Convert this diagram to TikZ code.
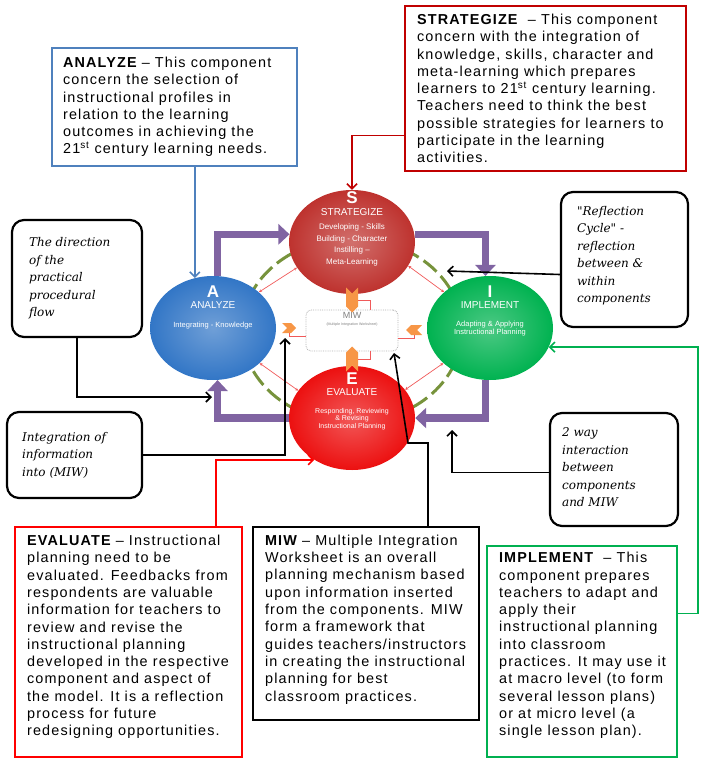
\documentclass[tikz,border=0pt]{standalone}
\usepackage{fontspec}
\setmainfont{Liberation Sans}
\newfontfamily\boxfont[LetterSpace=8]{Liberation Sans}
\newfontfamily\callfont{DejaVu Serif}
\usetikzlibrary{arrows.meta}
\usetikzlibrary{positioning}
\usetikzlibrary{shapes.geometric}
\usetikzlibrary{shapes.symbols}
\usetikzlibrary{backgrounds}
\usetikzlibrary{calc}

\definecolor{anablue}{RGB}{79,129,189}
\definecolor{strared}{RGB}{192,0,0}
\definecolor{evared}{RGB}{255,0,0}
\definecolor{implgreen}{RGB}{0,176,80}
\definecolor{cyclepurple}{RGB}{128,100,162}
\definecolor{dashgreen}{RGB}{119,147,60}
\definecolor{chevorange}{RGB}{247,150,70}
\definecolor{linkred}{RGB}{240,90,90}
\definecolor{sball}{RGB}{190,50,46}
\definecolor{aball}{RGB}{50,118,198}
\definecolor{iball}{RGB}{0,178,80}
\definecolor{eball}{RGB}{236,16,16}

\tikzset{
  comp/.style={ellipse, minimum width=126, minimum height=104, inner sep=0},
  letter/.style={text=white, font=\bfseries\fontsize{17}{17}\selectfont, inner sep=0},
  compname/.style={text=white, font=\fontsize{10}{10}\selectfont, inner sep=0},
  compdesc/.style={text=white, align=center, font=\fontsize{7.5}{8.5}\selectfont, inner sep=0},
  infobox/.style={rectangle, draw, line width=2.2pt, inner sep=0},
  boxtext/.style={align=left, inner sep=0, font=\boxfont\fontsize{14.4}{17.3}\selectfont},
  callout/.style={rectangle, draw, line width=2.2pt, rounded corners=12pt, inner sep=0},
  calltext/.style={align=left, inner sep=0, font=\callfont\itshape\fontsize{12}{17.5}\selectfont},
  cycle/.style={draw=cyclepurple, line width=7.5pt, -{Triangle[length=11pt,width=20pt]}},
  recycle/.style={draw=dashgreen, line width=3pt, dash pattern=on 17pt off 6pt},
  reflect/.style={draw=linkred, line width=0.7pt, {Stealth[length=3pt,width=3pt]}-{Stealth[length=3pt,width=3pt]}},
  linkline/.style={draw=linkred, line width=0.5pt},
  chev/.style={signal, fill=chevorange, inner sep=0, minimum width=12pt, minimum height=13pt},
  pointer/.style={draw=black, line width=1.6pt, -{Straight Barb[length=5pt,width=10pt]}}
}

\begin{document}
\begin{tikzpicture}[x=1pt,y=-1pt]
\useasboundingbox (0,0) rectangle (712,765);

% the four components
\node[comp, inner color=sball!70!white, outer color=sball] (S) at (352,242) {};
\node[letter, below=2pt of S.north] (Sl) {S};
\node[compname, below=4pt of Sl] (Sn) {STRATEGIZE};
\node[compdesc, below=8pt of Sn, font=\fontsize{8}{11.5}\selectfont] {Developing - Skills\\Building - Character\\Instilling –\\Meta-Learning};

\node[comp, inner color=aball!70!white, outer color=aball] (A) at (213,328) {};
\node[letter, below=10pt of A.north] (Al) {A};
\node[compname, below=3.5pt of Al] (An) {ANALYZE};
\node[compdesc, below=13pt of An] {Integrating - Knowledge};

\node[comp, inner color=iball!70!white, outer color=iball] (I) at (490,328) {};
\node[letter, below=10pt of I.north] (Il) {I};
\node[compname, below=3.5pt of Il] (In) {IMPLEMENT};
\node[compdesc, below=12pt of In] {Adapting \& Applying\\Instructional Planning};

\node[comp, inner color=eball!70!white, outer color=eball] (E) at (352,418) {};
\node[letter, below=7pt of E.north] (El) {E};
\node[compname, below=3.5pt of El] (En) {EVALUATE};
\node[compdesc, below=12pt of En, font=\fontsize{7}{7.8}\selectfont] {Responding, Reviewing\\\& Revising\\Instructional Planning};

% worksheet in the middle
\node[rectangle, rounded corners=5pt, draw=gray!60, densely dotted, line width=0.8pt, fill=white, minimum width=92, minimum height=41] (miw) at (352,330.5) {};
\node[text=gray, font=\fontsize{9}{9}\selectfont, inner sep=0, below=3pt of miw.north] (miwt) {MIW};
\node[text=gray, font=\fontsize{3.6}{4}\selectfont, inner sep=0, below=3pt of miwt] {(Multiple Integration Worksheet)};

\node[chev, signal to=south, signal from=north] (chS) at (352,300) {};
\node[chev, signal to=north, signal from=south] (chE) at (352,359) {};
\node[chev, signal to=east, signal from=west, minimum width=14pt, minimum height=10pt] (chA) at (289,328) {};
\node[chev, signal to=west, signal from=east, minimum width=16pt, minimum height=10pt] (chI) at (414,330) {};

% description boxes
\node[infobox, draw=anablue, minimum width=245, minimum height=118] (anabox) at (174.5,107) {};
\node[boxtext, right=12pt of anabox.west] (anatext) {{\bfseries ANALYZE} – This component\\concern the selection of\\instructional profiles in\\relation to the learning\\outcomes in achieving the\\21\textsuperscript{st} century learning needs.};

\node[infobox, draw=strared, minimum width=281, minimum height=165] (strabox) at (545.5,88.5) {};
\node[boxtext, right=13pt of strabox.west] (stratext) {{\bfseries STRATEGIZE}\ \ – This component\\concern with the integration of\\knowledge, skills, character and\\meta-learning which prepares\\learners to 21\textsuperscript{st} century learning.\\Teachers need to think the best\\possible strategies for learners to\\participate in the learning\\activities.};

\node[infobox, draw=evared, minimum width=227, minimum height=230] (evabox) at (128.5,642) {};
\node[boxtext, right=13pt of evabox.west, yshift=5pt] (evatext) {{\bfseries EVALUATE} – Instructional\\planning need to be\\evaluated. Feedbacks from\\respondents are valuable\\information for teachers to\\review and revise the\\instructional planning\\developed in the respective\\component and aspect of\\the model. It is a reflection\\process for future\\redesigning opportunities.};

\node[infobox, draw=black, minimum width=226, minimum height=193] (miwbox) at (366,623.5) {};
\node[boxtext, right=13pt of miwbox.west, yshift=4pt] (miwtext) {{\bfseries MIW} – Multiple Integration\\Worksheet is an overall\\planning mechanism based\\upon information inserted\\from the components. MIW\\form a framework that\\guides teachers/instructors\\in creating the instructional\\planning for best\\classroom practices.};

\node[infobox, draw=implgreen, minimum width=190, minimum height=211] (implbox) at (582,651.5) {};
\node[boxtext, right=13pt of implbox.west, yshift=6pt] (impltext) {{\bfseries IMPLEMENT}\ \ – This\\component prepares\\teachers to adapt and\\apply their\\instructional planning\\into classroom\\practices. It may use it\\at macro level (to form\\several lesson plans)\\or at micro level (a\\single lesson plan).};

% callouts
\node[callout, minimum width=130, minimum height=117] (dirbox) at (77,278.5) {};
\node[calltext, right=18pt of dirbox.west] {The direction\\of the\\practical\\procedural\\flow};

\node[callout, minimum width=135, minimum height=86] (intbox) at (74.5,455) {};
\node[calltext, right=16pt of intbox.west] {Integration of\\information\\into (MIW)};

\node[callout, minimum width=127, minimum height=135] (reflbox) at (624.5,259.5) {};
\node[calltext, right=17pt of reflbox.west, yshift=4pt] {"Reflection\\Cycle" -\\reflection\\between \&\\within\\components};

\node[callout, minimum width=128, minimum height=113] (twobox) at (614,469.5) {};
\node[calltext, right=13pt of twobox.west, yshift=2pt] {2 way\\interaction\\between\\components\\and MIW};

% the cycle behind the components
\begin{scope}[on background layer]
  \draw[cycle] (A.85) |- (S.173);
  \draw[cycle] (S.7) -| (I.95);
  \draw[cycle] (I.265) |- (E.east);
  \draw[cycle] (E.west) -| (A.275);
  \draw[recycle] ($(miw.center)+(200:110 and 92)$) arc[start angle=200, end angle=242, x radius=110, y radius=92];
  \draw[recycle] ($(miw.center)+(298:110 and 92)$) arc[start angle=298, end angle=340, x radius=110, y radius=92];
  \draw[recycle] ($(miw.center)+(20:110 and 92)$) arc[start angle=20, end angle=62, x radius=110, y radius=92];
  \draw[recycle] ($(miw.center)+(118:110 and 92)$) arc[start angle=118, end angle=160, x radius=110, y radius=92];
\end{scope}

\draw[reflect] (A.38) -- (S.205);
\draw[reflect] (S.337) -- (I.142);
\draw[reflect] (A.323) -- (E.153);
\draw[reflect] (E.28) -- (I.217);

\draw[linkline] (chS.east) -| ([xshift=18pt]miw.north);
\draw[linkline] (chE.east) -| ([xshift=18pt]miw.south);
\draw[linkline] (chA.south) |- ([yshift=-6pt]miw.west);
\draw[linkline] (chI.south) |- ([yshift=-8pt]miw.east);

% connectors from the texts
\coordinate (reflend) at (447,271);
\coordinate (dirend) at (212,397);
\coordinate (intend) at (285,338);
\coordinate (miwbend) at (408,443);
\coordinate (miwend) at (394,353);
\coordinate (twoend) at (452,430);

\draw[pointer, anablue] (anabox.south -| A.110) -- (A.110);
\draw[pointer, strared] ([yshift=-47pt]strabox.west) -| (S.north);
\draw[pointer, evared] ([xshift=87.5pt]evabox.north) |- (E.228);
\draw[pointer, implgreen] ([yshift=38pt]implbox.east) -- ++(20,0) |- (I.342);

\draw[pointer] ([yshift=-15pt]reflbox.west) -- (reflend);
\draw[pointer] (dirbox.south) |- (dirend);
\draw[pointer] (intbox.east) -| (intend);
\draw[pointer] ([xshift=62pt]miwbox.north) |- (miwbend) -- (miwend);
\draw[pointer] ([yshift=-3pt]twobox.west) -| (twoend);
\end{tikzpicture}
\end{document}
